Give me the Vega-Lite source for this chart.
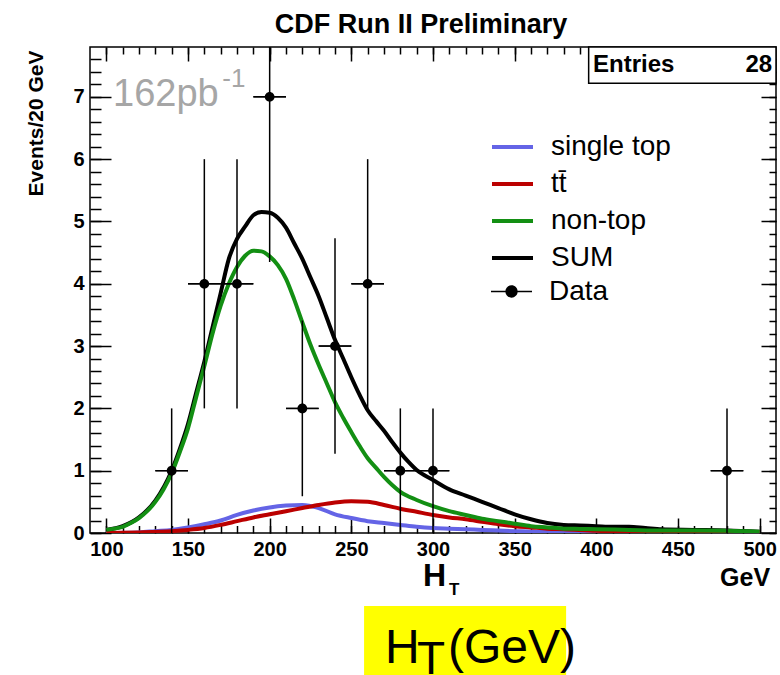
{
 "$schema": "https://vega.github.io/schema/vega-lite/v6.json",
 "width": 686,
 "height": 486,
 "autosize": {"type": "none"},
 "padding": {"left": 90, "top": 47, "right": 4, "bottom": 142},
 "background": "white",
 "title": {"text": "CDF Run II Preliminary", "font": "Liberation Sans", "fontSize": 27, "fontWeight": "bold", "color": "black", "anchor": "middle", "dx": -12, "offset": -14, "baseline": "alphabetic"},
 "config": {
  "view": {"stroke": "black", "strokeWidth": 1.5},
  "axis": {"grid": false, "domain": false, "labelFont": "Liberation Sans", "labelFontWeight": "bold", "labelFontSize": 20, "labelColor": "black", "tickColor": "black", "tickWidth": 1.5}
 },
 "datasets": {
  "curves": [
   {"series": "SUM", "ht": 100, "events": 0.05}, {"series": "SUM", "ht": 110, "events": 0.11}, {"series": "SUM", "ht": 120, "events": 0.25}, {"series": "SUM", "ht": 130, "events": 0.52}, {"series": "SUM", "ht": 140, "events": 1.0}, {"series": "SUM", "ht": 145, "events": 1.35}, {"series": "SUM", "ht": 150, "events": 1.75}, {"series": "SUM", "ht": 155, "events": 2.25}, {"series": "SUM", "ht": 160, "events": 2.75}, {"series": "SUM", "ht": 165, "events": 3.3}, {"series": "SUM", "ht": 170, "events": 3.85}, {"series": "SUM", "ht": 175, "events": 4.4}, {"series": "SUM", "ht": 180, "events": 4.72}, {"series": "SUM", "ht": 185, "events": 4.92}, {"series": "SUM", "ht": 190, "events": 5.1}, {"series": "SUM", "ht": 195, "events": 5.15}, {"series": "SUM", "ht": 200, "events": 5.14}, {"series": "SUM", "ht": 205, "events": 5.06}, {"series": "SUM", "ht": 210, "events": 4.9}, {"series": "SUM", "ht": 215, "events": 4.65}, {"series": "SUM", "ht": 220, "events": 4.4}, {"series": "SUM", "ht": 225, "events": 4.1}, {"series": "SUM", "ht": 230, "events": 3.8}, {"series": "SUM", "ht": 235, "events": 3.45}, {"series": "SUM", "ht": 240, "events": 3.1}, {"series": "SUM", "ht": 245, "events": 2.8}, {"series": "SUM", "ht": 250, "events": 2.5}, {"series": "SUM", "ht": 255, "events": 2.22}, {"series": "SUM", "ht": 260, "events": 1.97}, {"series": "SUM", "ht": 265, "events": 1.8}, {"series": "SUM", "ht": 270, "events": 1.64}, {"series": "SUM", "ht": 275, "events": 1.46}, {"series": "SUM", "ht": 280, "events": 1.29}, {"series": "SUM", "ht": 285, "events": 1.14}, {"series": "SUM", "ht": 290, "events": 1.01}, {"series": "SUM", "ht": 300, "events": 0.85}, {"series": "SUM", "ht": 310, "events": 0.7}, {"series": "SUM", "ht": 320, "events": 0.6}, {"series": "SUM", "ht": 330, "events": 0.5}, {"series": "SUM", "ht": 340, "events": 0.4}, {"series": "SUM", "ht": 350, "events": 0.3}, {"series": "SUM", "ht": 360, "events": 0.22}, {"series": "SUM", "ht": 370, "events": 0.16}, {"series": "SUM", "ht": 380, "events": 0.13}, {"series": "SUM", "ht": 390, "events": 0.12}, {"series": "SUM", "ht": 400, "events": 0.11}, {"series": "SUM", "ht": 410, "events": 0.1}, {"series": "SUM", "ht": 420, "events": 0.1}, {"series": "SUM", "ht": 430, "events": 0.08}, {"series": "SUM", "ht": 440, "events": 0.06}, {"series": "SUM", "ht": 460, "events": 0.05}, {"series": "SUM", "ht": 480, "events": 0.04}, {"series": "SUM", "ht": 500, "events": 0.02},
   {"series": "single top", "ht": 100, "events": 0.0}, {"series": "single top", "ht": 120, "events": 0.01}, {"series": "single top", "ht": 130, "events": 0.03}, {"series": "single top", "ht": 140, "events": 0.05}, {"series": "single top", "ht": 150, "events": 0.09}, {"series": "single top", "ht": 160, "events": 0.14}, {"series": "single top", "ht": 170, "events": 0.2}, {"series": "single top", "ht": 180, "events": 0.29}, {"series": "single top", "ht": 190, "events": 0.36}, {"series": "single top", "ht": 200, "events": 0.41}, {"series": "single top", "ht": 210, "events": 0.44}, {"series": "single top", "ht": 220, "events": 0.45}, {"series": "single top", "ht": 230, "events": 0.4}, {"series": "single top", "ht": 240, "events": 0.3}, {"series": "single top", "ht": 250, "events": 0.24}, {"series": "single top", "ht": 260, "events": 0.19}, {"series": "single top", "ht": 270, "events": 0.16}, {"series": "single top", "ht": 280, "events": 0.13}, {"series": "single top", "ht": 290, "events": 0.1}, {"series": "single top", "ht": 300, "events": 0.08}, {"series": "single top", "ht": 310, "events": 0.07}, {"series": "single top", "ht": 320, "events": 0.06}, {"series": "single top", "ht": 330, "events": 0.05}, {"series": "single top", "ht": 350, "events": 0.03}, {"series": "single top", "ht": 370, "events": 0.015}, {"series": "single top", "ht": 400, "events": 0.01}, {"series": "single top", "ht": 440, "events": 0.0}, {"series": "single top", "ht": 500, "events": 0.0},
   {"series": "tt̄", "ht": 100, "events": 0.0}, {"series": "tt̄", "ht": 120, "events": 0.01}, {"series": "tt̄", "ht": 140, "events": 0.03}, {"series": "tt̄", "ht": 150, "events": 0.05}, {"series": "tt̄", "ht": 160, "events": 0.08}, {"series": "tt̄", "ht": 170, "events": 0.13}, {"series": "tt̄", "ht": 180, "events": 0.19}, {"series": "tt̄", "ht": 190, "events": 0.25}, {"series": "tt̄", "ht": 200, "events": 0.3}, {"series": "tt̄", "ht": 210, "events": 0.35}, {"series": "tt̄", "ht": 220, "events": 0.4}, {"series": "tt̄", "ht": 230, "events": 0.45}, {"series": "tt̄", "ht": 240, "events": 0.49}, {"series": "tt̄", "ht": 250, "events": 0.51}, {"series": "tt̄", "ht": 260, "events": 0.5}, {"series": "tt̄", "ht": 270, "events": 0.45}, {"series": "tt̄", "ht": 280, "events": 0.39}, {"series": "tt̄", "ht": 290, "events": 0.34}, {"series": "tt̄", "ht": 300, "events": 0.29}, {"series": "tt̄", "ht": 310, "events": 0.25}, {"series": "tt̄", "ht": 320, "events": 0.22}, {"series": "tt̄", "ht": 330, "events": 0.18}, {"series": "tt̄", "ht": 340, "events": 0.14}, {"series": "tt̄", "ht": 350, "events": 0.11}, {"series": "tt̄", "ht": 360, "events": 0.09}, {"series": "tt̄", "ht": 370, "events": 0.07}, {"series": "tt̄", "ht": 380, "events": 0.06}, {"series": "tt̄", "ht": 400, "events": 0.035}, {"series": "tt̄", "ht": 420, "events": 0.02}, {"series": "tt̄", "ht": 460, "events": 0.02}, {"series": "tt̄", "ht": 480, "events": 0.015}, {"series": "tt̄", "ht": 500, "events": 0.01},
   {"series": "non-top", "ht": 100, "events": 0.05}, {"series": "non-top", "ht": 105, "events": 0.07}, {"series": "non-top", "ht": 110, "events": 0.1}, {"series": "non-top", "ht": 115, "events": 0.16}, {"series": "non-top", "ht": 120, "events": 0.24}, {"series": "non-top", "ht": 125, "events": 0.35}, {"series": "non-top", "ht": 130, "events": 0.5}, {"series": "non-top", "ht": 135, "events": 0.7}, {"series": "non-top", "ht": 140, "events": 0.96}, {"series": "non-top", "ht": 145, "events": 1.3}, {"series": "non-top", "ht": 150, "events": 1.68}, {"series": "non-top", "ht": 155, "events": 2.18}, {"series": "non-top", "ht": 160, "events": 2.68}, {"series": "non-top", "ht": 165, "events": 3.2}, {"series": "non-top", "ht": 170, "events": 3.65}, {"series": "non-top", "ht": 175, "events": 4.0}, {"series": "non-top", "ht": 180, "events": 4.27}, {"series": "non-top", "ht": 185, "events": 4.45}, {"series": "non-top", "ht": 190, "events": 4.53}, {"series": "non-top", "ht": 195, "events": 4.52}, {"series": "non-top", "ht": 200, "events": 4.44}, {"series": "non-top", "ht": 205, "events": 4.3}, {"series": "non-top", "ht": 210, "events": 4.08}, {"series": "non-top", "ht": 215, "events": 3.75}, {"series": "non-top", "ht": 220, "events": 3.38}, {"series": "non-top", "ht": 225, "events": 3.02}, {"series": "non-top", "ht": 230, "events": 2.7}, {"series": "non-top", "ht": 235, "events": 2.4}, {"series": "non-top", "ht": 240, "events": 2.1}, {"series": "non-top", "ht": 245, "events": 1.85}, {"series": "non-top", "ht": 250, "events": 1.62}, {"series": "non-top", "ht": 255, "events": 1.4}, {"series": "non-top", "ht": 260, "events": 1.2}, {"series": "non-top", "ht": 265, "events": 1.05}, {"series": "non-top", "ht": 270, "events": 0.9}, {"series": "non-top", "ht": 275, "events": 0.77}, {"series": "non-top", "ht": 280, "events": 0.66}, {"series": "non-top", "ht": 290, "events": 0.53}, {"series": "non-top", "ht": 300, "events": 0.43}, {"series": "non-top", "ht": 310, "events": 0.35}, {"series": "non-top", "ht": 320, "events": 0.29}, {"series": "non-top", "ht": 330, "events": 0.23}, {"series": "non-top", "ht": 340, "events": 0.19}, {"series": "non-top", "ht": 350, "events": 0.15}, {"series": "non-top", "ht": 360, "events": 0.11}, {"series": "non-top", "ht": 370, "events": 0.09}, {"series": "non-top", "ht": 380, "events": 0.07}, {"series": "non-top", "ht": 390, "events": 0.065}, {"series": "non-top", "ht": 400, "events": 0.06}, {"series": "non-top", "ht": 420, "events": 0.05}, {"series": "non-top", "ht": 440, "events": 0.04}, {"series": "non-top", "ht": 460, "events": 0.04}, {"series": "non-top", "ht": 480, "events": 0.035}, {"series": "non-top", "ht": 500, "events": 0.02}
  ],
  "points": [
   {"ht": 140, "n": 1, "lo": 0, "hi": 2, "xlo": 130, "xhi": 150},
   {"ht": 160, "n": 4, "lo": 2, "hi": 6, "xlo": 150, "xhi": 170},
   {"ht": 180, "n": 4, "lo": 2, "hi": 6, "xlo": 170, "xhi": 190},
   {"ht": 200, "n": 7, "lo": 4.35, "hi": 9.65, "xlo": 190, "xhi": 210},
   {"ht": 220, "n": 2, "lo": 0.59, "hi": 3.41, "xlo": 210, "xhi": 230},
   {"ht": 240, "n": 3, "lo": 1.27, "hi": 4.73, "xlo": 230, "xhi": 250},
   {"ht": 260, "n": 4, "lo": 2, "hi": 6, "xlo": 250, "xhi": 270},
   {"ht": 280, "n": 1, "lo": 0, "hi": 2, "xlo": 270, "xhi": 290},
   {"ht": 300, "n": 1, "lo": 0, "hi": 2, "xlo": 290, "xhi": 310},
   {"ht": 480, "n": 1, "lo": 0, "hi": 2, "xlo": 470, "xhi": 490}
  ]
 },
 "resolve": {"axis": {"x": "independent", "y": "independent"}},
 "layer": [
  {
   "data": {"name": "curves"},
   "mark": {"type": "line", "interpolate": "monotone", "clip": true},
   "encoding": {
    "x": {"field": "ht", "type": "quantitative", "scale": {"domain": [90, 510], "nice": false, "zero": false},
          "axis": {"orient": "bottom", "title": null, "ticks": false, "values": [100, 150, 200, 250, 300, 350, 400, 450, 500], "labelPadding": 6, "labelFlush": false, "labelOverlap": false}},
    "y": {"field": "events", "type": "quantitative", "scale": {"domain": [0, 7.8], "nice": false, "zero": false},
          "axis": {"orient": "left", "ticks": false, "values": [0, 1, 2, 3, 4, 5, 6, 7], "labelPadding": 6, "labelFlush": false, "labelOverlap": false,
                   "title": "Events/20 GeV", "titleFont": "Liberation Sans", "titleFontWeight": "bold", "titleFontSize": 21, "titleColor": "black",
                   "titleAngle": -90, "titleAlign": "right", "titleBaseline": "alphabetic", "titleX": -48, "titleY": 3}},
    "color": {"field": "series", "type": "nominal",
              "scale": {"domain": ["single top", "tt̄", "non-top", "SUM"], "range": ["#6464e6", "#bb0000", "#138f13", "#000000"]},
              "legend": {"title": null, "orient": "none", "legendX": 400, "legendY": 77.5, "symbolType": "stroke", "symbolSize": 1681, "symbolStrokeWidth": 4,
                         "labelFont": "Liberation Sans", "labelFontSize": 28, "labelColor": "black", "labelOffset": 16, "rowPadding": -4.5, "padding": 0, "labelLimit": 300}},
    "strokeWidth": {"field": "series", "type": "nominal", "scale": {"domain": ["single top", "tt̄", "non-top", "SUM"], "range": [4, 4, 4, 5]}, "legend": null}
   }
  },
  {
   "data": {"name": "points"},
   "mark": {"type": "rule", "color": "black", "strokeWidth": 1.5, "clip": true},
   "encoding": {
    "x": {"field": "ht", "type": "quantitative", "scale": {"domain": [90, 510], "nice": false, "zero": false},
          "axis": {"orient": "top", "offset": -486, "title": null, "labels": false, "tickSize": 15, "values": [100, 150, 200, 250, 300, 350, 400, 450, 500]}},
    "y": {"field": "lo", "type": "quantitative", "scale": {"domain": [0, 7.8], "nice": false, "zero": false},
          "axis": {"orient": "right", "offset": -686, "title": null, "labels": false, "tickSize": 21, "values": [0, 1, 2, 3, 4, 5, 6, 7]}},
    "y2": {"field": "hi"}
   }
  },
  {
   "data": {"name": "points"},
   "mark": {"type": "rule", "color": "black", "strokeWidth": 1.5, "clip": true},
   "encoding": {
    "x": {"field": "xlo", "type": "quantitative", "scale": {"domain": [90, 510], "nice": false, "zero": false},
          "axis": {"orient": "top", "offset": -486, "title": null, "labels": false, "tickSize": 7.5, "values": [100, 110, 120, 130, 140, 150, 160, 170, 180, 190, 200, 210, 220, 230, 240, 250, 260, 270, 280, 290, 300, 310, 320, 330, 340, 350, 360, 370, 380, 390, 400, 410, 420, 430, 440, 450, 460, 470, 480, 490, 500]}},
    "x2": {"field": "xhi"},
    "y": {"field": "n", "type": "quantitative", "scale": {"domain": [0, 7.8], "nice": false, "zero": false},
          "axis": {"orient": "right", "offset": -686, "title": null, "labels": false, "tickSize": 11, "values": [0, 0.2, 0.4, 0.6, 0.8, 1, 1.2, 1.4, 1.6, 1.8, 2, 2.2, 2.4, 2.6, 2.8, 3, 3.2, 3.4, 3.6, 3.8, 4, 4.2, 4.4, 4.6, 4.8, 5, 5.2, 5.4, 5.6, 5.8, 6, 6.2, 6.4, 6.6, 6.8, 7, 7.2, 7.4, 7.6]}}
   }
  },
  {
   "data": {"name": "points"},
   "mark": {"type": "point", "filled": true, "color": "black", "size": 1063, "opacity": 1},
   "encoding": {
    "x": {"field": "ht", "type": "quantitative", "scale": {"domain": [90, 510], "nice": false, "zero": false},
          "axis": {"orient": "bottom", "offset": -486, "title": null, "labels": false, "tickSize": 14, "values": [100, 150, 200, 250, 300, 350, 400, 450, 500]}},
    "y": {"field": "n", "type": "quantitative", "scale": {"domain": [0, 7.8], "nice": false, "zero": false},
          "axis": {"orient": "left", "offset": -686, "title": null, "labels": false, "tickSize": 15, "values": [0, 1, 2, 3, 4, 5, 6, 7]}},
    "shape": {"datum": "Data", "scale": {"domain": ["Data"], "range": ["M-1,-0.04L1,-0.04L1,0.04L-1,0.04Z M-0.3,0A0.3,0.3,0,1,1,0.3,0A0.3,0.3,0,1,1,-0.3,0Z"]},
              "legend": {"title": null, "orient": "none", "legendX": 400, "legendY": 223, "symbolSize": 1681, "symbolFillColor": "black",
                         "labelFont": "Liberation Sans", "labelFontSize": 28, "labelColor": "black", "labelOffset": 16, "padding": 0}}
   }
  },
  {
   "data": {"values": [{}]},
   "mark": {"type": "rect", "fill": "white", "stroke": "black", "strokeWidth": 1.5},
   "encoding": {
    "x": {"datum": 395.3, "type": "quantitative", "scale": {"domain": [90, 510], "nice": false, "zero": false},
          "axis": {"orient": "bottom", "offset": -486, "title": null, "labels": false, "tickSize": 7, "values": [100, 110, 120, 130, 140, 150, 160, 170, 180, 190, 200, 210, 220, 230, 240, 250, 260, 270, 280, 290, 300, 310, 320, 330, 340, 350, 360, 370, 380, 390, 400, 410, 420, 430, 440, 450, 460, 470, 480, 490, 500]}},
    "x2": {"datum": 510},
    "y": {"datum": 7.22, "type": "quantitative", "scale": {"domain": [0, 7.8], "nice": false, "zero": false},
          "axis": {"orient": "left", "offset": -686, "title": null, "labels": false, "tickSize": 7, "values": [0, 0.2, 0.4, 0.6, 0.8, 1, 1.2, 1.4, 1.6, 1.8, 2, 2.2, 2.4, 2.6, 2.8, 3, 3.2, 3.4, 3.6, 3.8, 4, 4.2, 4.4, 4.6, 4.8, 5, 5.2, 5.4, 5.6, 5.8, 6, 6.2, 6.4, 6.6, 6.8, 7, 7.2, 7.4, 7.6]}},
    "y2": {"datum": 7.8}
   }
  },
  {
   "data": {"values": [{}]},
   "mark": {"type": "text", "text": "Entries", "font": "Liberation Sans", "fontWeight": "bold", "fontSize": 24, "align": "left", "baseline": "alphabetic", "color": "black"},
   "encoding": {"x": {"datum": 398, "type": "quantitative", "scale": {"domain": [90, 510], "nice": false, "zero": false}, "axis": null},
                "y": {"datum": 7.4, "type": "quantitative", "scale": {"domain": [0, 7.8], "nice": false, "zero": false}, "axis": null}}
  },
  {
   "data": {"values": [{}]},
   "mark": {"type": "text", "text": "28", "font": "Liberation Sans", "fontWeight": "bold", "fontSize": 24, "align": "right", "baseline": "alphabetic", "color": "black"},
   "encoding": {"x": {"datum": 507.6, "type": "quantitative", "scale": {"domain": [90, 510], "nice": false, "zero": false}, "axis": null},
                "y": {"datum": 7.4, "type": "quantitative", "scale": {"domain": [0, 7.8], "nice": false, "zero": false}, "axis": null}}
  },
  {
   "data": {"values": [{}]},
   "mark": {"type": "text", "text": "162pb", "font": "Liberation Sans", "fontSize": 38, "align": "left", "baseline": "alphabetic", "color": "#a6a6a6"},
   "encoding": {"x": {"datum": 104.1, "type": "quantitative", "scale": {"domain": [90, 510], "nice": false, "zero": false}, "axis": null},
                "y": {"datum": 6.85, "type": "quantitative", "scale": {"domain": [0, 7.8], "nice": false, "zero": false}, "axis": null}}
  },
  {
   "data": {"values": [{}]},
   "mark": {"type": "text", "text": "-1", "font": "Liberation Sans", "fontSize": 26, "align": "left", "baseline": "alphabetic", "color": "#a6a6a6"},
   "encoding": {"x": {"datum": 171, "type": "quantitative", "scale": {"domain": [90, 510], "nice": false, "zero": false}, "axis": null},
                "y": {"datum": 7.16, "type": "quantitative", "scale": {"domain": [0, 7.8], "nice": false, "zero": false}, "axis": null}}
  },
  {
   "data": {"values": [{}]},
   "mark": {"type": "text", "text": "H", "font": "Liberation Sans", "fontWeight": "bold", "fontSize": 32, "align": "left", "baseline": "alphabetic", "color": "black"},
   "encoding": {"x": {"datum": 293.9, "type": "quantitative", "scale": {"domain": [90, 510], "nice": false, "zero": false}, "axis": null},
                "y": {"datum": -0.85, "type": "quantitative", "scale": {"domain": [0, 7.8], "nice": false, "zero": false}, "axis": null}}
  },
  {
   "data": {"values": [{}]},
   "mark": {"type": "text", "text": "T", "font": "Liberation Sans", "fontWeight": "bold", "fontSize": 17, "align": "left", "baseline": "alphabetic", "color": "black"},
   "encoding": {"x": {"datum": 309.8, "type": "quantitative", "scale": {"domain": [90, 510], "nice": false, "zero": false}, "axis": null},
                "y": {"datum": -0.99, "type": "quantitative", "scale": {"domain": [0, 7.8], "nice": false, "zero": false}, "axis": null}}
  },
  {
   "data": {"values": [{}]},
   "mark": {"type": "text", "text": "GeV", "font": "Liberation Sans", "fontWeight": "bold", "fontSize": 25, "align": "right", "baseline": "alphabetic", "color": "black"},
   "encoding": {"x": {"datum": 506.4, "type": "quantitative", "scale": {"domain": [90, 510], "nice": false, "zero": false}, "axis": null},
                "y": {"datum": -0.85, "type": "quantitative", "scale": {"domain": [0, 7.8], "nice": false, "zero": false}, "axis": null}}
  },
  {
   "data": {"values": [{}]},
   "mark": {"type": "rect", "fill": "#ffff00"},
   "encoding": {"x": {"datum": 257.8, "type": "quantitative", "scale": {"domain": [90, 510], "nice": false, "zero": false}, "axis": null},
                "x2": {"datum": 381.5},
                "y": {"datum": -1.17, "type": "quantitative", "scale": {"domain": [0, 7.8], "nice": false, "zero": false}, "axis": null},
                "y2": {"datum": -2.3}}
  },
  {
   "data": {"values": [{}]},
   "mark": {"type": "text", "text": "H", "font": "Liberation Sans", "fontSize": 48, "align": "left", "baseline": "alphabetic", "color": "black"},
   "encoding": {"x": {"datum": 270.6, "type": "quantitative", "scale": {"domain": [90, 510], "nice": false, "zero": false}, "axis": null},
                "y": {"datum": -2.087, "type": "quantitative", "scale": {"domain": [0, 7.8], "nice": false, "zero": false}, "axis": null}}
  },
  {
   "data": {"values": [{}]},
   "mark": {"type": "text", "text": "T", "font": "Liberation Sans", "fontSize": 46, "align": "left", "baseline": "alphabetic", "color": "black"},
   "encoding": {"x": {"datum": 290.2, "type": "quantitative", "scale": {"domain": [90, 510], "nice": false, "zero": false}, "axis": null},
                "y": {"datum": -2.27, "type": "quantitative", "scale": {"domain": [0, 7.8], "nice": false, "zero": false}, "axis": null}}
  },
  {
   "data": {"values": [{}]},
   "mark": {"type": "text", "text": "(GeV)", "font": "Liberation Sans", "fontSize": 48, "align": "left", "baseline": "alphabetic", "color": "black"},
   "encoding": {"x": {"datum": 309.2, "type": "quantitative", "scale": {"domain": [90, 510], "nice": false, "zero": false}, "axis": null},
                "y": {"datum": -2.087, "type": "quantitative", "scale": {"domain": [0, 7.8], "nice": false, "zero": false}, "axis": null}}
  }
 ]
}
